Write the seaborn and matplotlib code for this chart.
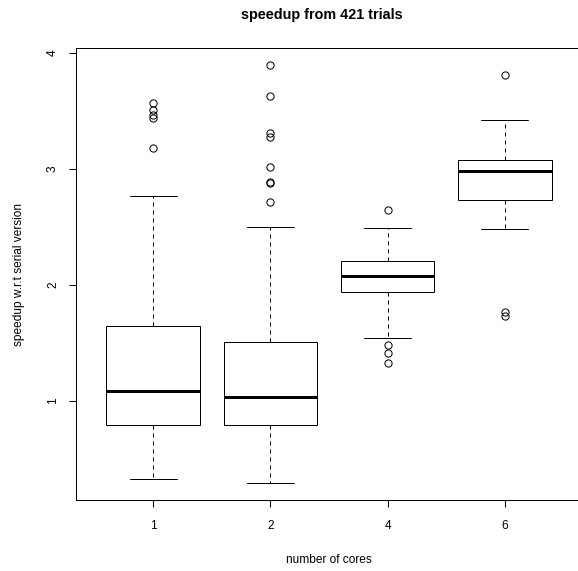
import matplotlib
matplotlib.use("Agg")
import matplotlib.pyplot as plt
import seaborn as sns

# box statistics (speedup per core count)
cores = ["1", "2", "4", "6"]
whislo = [0.33, 0.29, 1.54, 2.48]
q1 = [0.79, 0.79, 1.94, 2.73]
med = [1.09, 1.03, 2.08, 2.98]
q3 = [1.65, 1.51, 2.21, 3.08]
whishi = [2.77, 2.50, 2.49, 3.42]
fliers = [
    [3.57, 3.51, 3.47, 3.44, 3.18],
    [3.90, 3.63, 3.31, 3.28, 3.02, 2.89, 2.88, 2.72],
    [2.65, 1.48, 1.41, 1.33],
    [3.81, 1.77, 1.73],
]

sns.set_style("white")
plt.rcParams["font.family"] = ["Liberation Sans", "DejaVu Sans"]
plt.rcParams["text.color"] = "black"
plt.rcParams["axes.labelcolor"] = "black"
plt.rcParams["xtick.color"] = "black"
plt.rcParams["ytick.color"] = "black"

px = 0.72  # one pixel in points at dpi 100

stats = []
for i, c in enumerate(cores):
    stats.append(dict(label=c, whislo=whislo[i], q1=q1[i], med=med[i],
                      q3=q3[i], whishi=whishi[i], fliers=fliers[i]))

fig = plt.figure(figsize=(5.78, 5.71), dpi=100)
fig.patch.set_facecolor("white")
ax = fig.add_axes([76 / 578, 71 / 571, 506 / 578, 452 / 571])

positions = list(range(1, len(cores) + 1))
ax.bxp(stats, positions=positions, widths=0.8, capwidths=0.4,
       patch_artist=True,
       boxprops=dict(facecolor="white", edgecolor="black", linewidth=px),
       medianprops=dict(color="black", linewidth=3 * px, solid_capstyle="butt"),
       whiskerprops=dict(color="black", linewidth=px, linestyle=(0, (4, 4))),
       capprops=dict(color="black", linewidth=px),
       flierprops=dict(marker="o", markerfacecolor="none", markeredgecolor="black",
                       markersize=5.2, markeredgewidth=px))

allvals = whislo + whishi + [v for f in fliers for v in f]
lo, hi = min(allvals), max(allvals)
r = hi - lo
ax.set_ylim(lo - 0.04 * r, hi + 0.04 * r)
ax.set_xlim(0.34, len(cores) + 0.66)

ax.set_yticks([1, 2, 3, 4])
ax.set_yticklabels(["1", "2", "3", "4"], rotation=90, va="center")
ax.set_xticks(positions)
ax.set_xticklabels(cores)

ax.tick_params(axis="both", direction="out", length=5.2, width=px,
               color="black", labelsize=8.6, left=True, bottom=True)
ax.tick_params(axis="y", pad=7)
ax.tick_params(axis="x", pad=9)

for s in ax.spines.values():
    s.set_color("black")
    s.set_linewidth(px)

ax.set_xlabel("number of cores", fontsize=8.6, labelpad=16)
ax.set_ylabel("speedup w.r.t serial version", fontsize=8.6, labelpad=16)
fig.text(322 / 578, 1 - 15 / 571, "speedup from 421 trials", ha="center",
         va="center", fontsize=10.4, fontweight="bold")

fig.savefig("out.png", dpi=100)
